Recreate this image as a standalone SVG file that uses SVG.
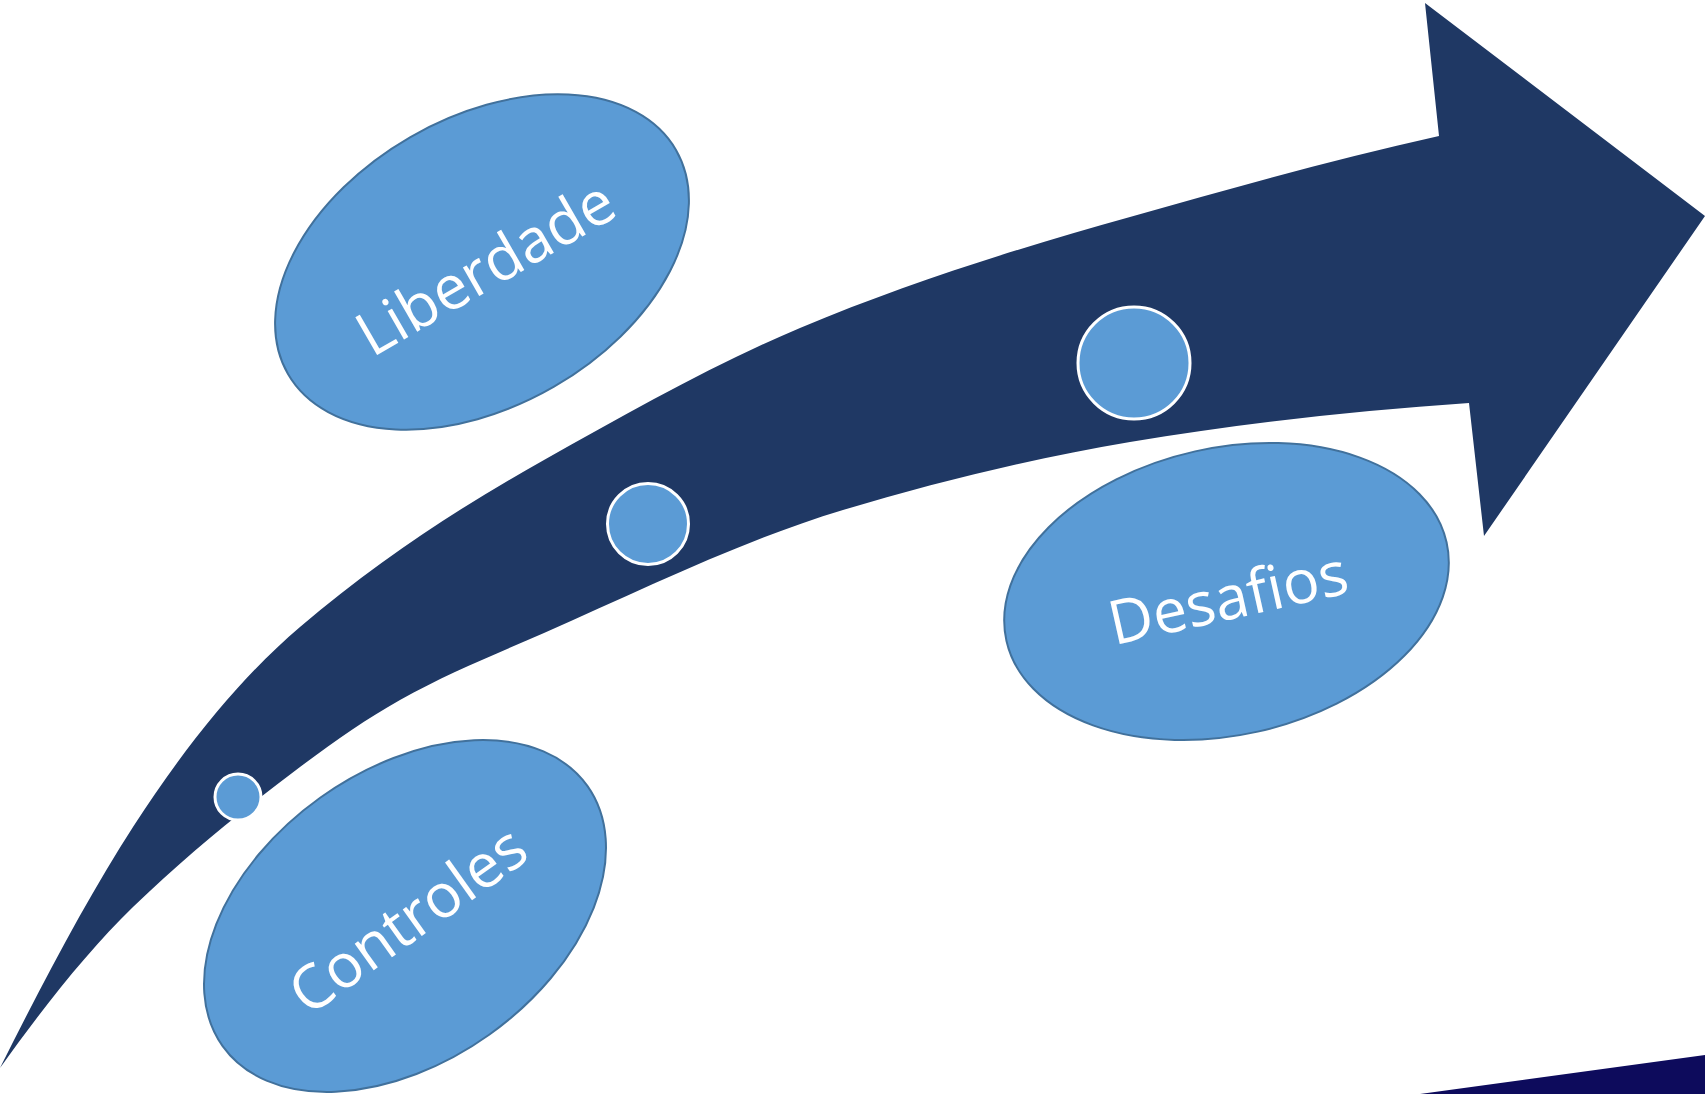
<svg xmlns="http://www.w3.org/2000/svg" width="1705" height="1094" viewBox="0 0 1705 1094">
  <style>
    .arrow { fill: #1F3864; }
    .node-ellipse { fill: #5B9BD5; stroke: #41719C; stroke-width: 2; }
    .dot { fill: #5B9BD5; stroke: #FFFFFF; stroke-width: 3; }
    .label { fill: #FFFFFF; font-family: "Open Sans", "Noto Sans", "DejaVu Sans", sans-serif; font-size: 61px; text-anchor: middle; }
  </style>
  <rect x="0" y="0" width="1705" height="1094" fill="#FFFFFF"/>
  <g id="corner">
    <polygon points="1420,1094 1705,1055 1705,1094" fill="#0D0B5C"/>
  </g>
  <g id="connectors">
    <path id="arrow" class="arrow" d="M 0,1068
      C 44.3,979.3 88.7,895.7 133,827
      C 188.7,740.7 244.3,674.3 300,627
      C 381.3,557.9 462.7,505.5 544,460
      C 629.3,412.2 714.7,363.8 800,328
      C 910,281.8 1020,247.8 1130,217
      C 1233,188.2 1336,158.7 1439,136
      L 1425,3 L 1705,216 L 1484,536 L 1469,403
      C 1356,410.9 1243,422.8 1130,442
      C 1034.3,458.3 938.7,481.3 843,510
      C 743.3,539.9 643.7,589.1 544,633
      C 496,654.1 448,673.1 400,700
      C 366.7,718.7 333.3,742 300,767
      C 244.3,808.8 188.7,853 133,907
      C 88.7,950 44.3,1005.9 0,1068 Z"/>
  </g>
  <g id="dot-1"><circle class="dot" cx="238" cy="797" r="23" stroke-width="2.5"/></g>
  <g id="dot-2"><circle class="dot" cx="648" cy="524" r="40.5"/></g>
  <g id="dot-3"><circle class="dot" cx="1134" cy="363" r="56"/></g>
  <g id="node-liberdade" transform="translate(482,262) rotate(-30)">
    <ellipse class="node-ellipse" cx="0" cy="0" rx="224" ry="144"/>
    <text class="label" x="0" y="28">Liberdade</text>
  </g>
  <g id="node-desafios" transform="translate(1226.5,591.5) rotate(-12.6)">
    <ellipse class="node-ellipse" cx="0" cy="0" rx="225.5" ry="143.6"/>
    <text class="label" x="0" y="28">Desafios</text>
  </g>
  <g id="node-controles" transform="translate(405,916) rotate(-35.5)">
    <ellipse class="node-ellipse" cx="0" cy="0" rx="224" ry="145.5"/>
    <text class="label" x="0" y="26">Controles</text>
  </g>
</svg>
